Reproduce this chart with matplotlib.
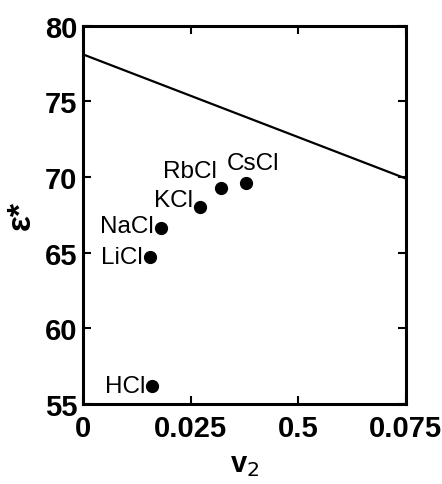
import matplotlib
matplotlib.use("Agg")
from matplotlib import pyplot as plt

# salts and their (v2, eps*) values
salts = ["HCl", "LiCl", "NaCl", "KCl", "RbCl", "CsCl"]
v2 = [0.0160, 0.0155, 0.0180, 0.0272, 0.0321, 0.0378]
eps = [56.2, 64.7, 66.6, 68.0, 69.3, 69.6]

# straight reference line
line_v2 = [0.0, 0.075]
line_eps = [78.1, 69.9]

xticks = [0, 0.025, 0.05, 0.075]
xtick_labels = ["0", "0.025", "0.5", "0.075"]
yticks = [55, 60, 65, 70, 75, 80]

# label offsets in pixels (dx, dy, ha)
offsets = {
    "HCl": (-7, 0, "right"),
    "LiCl": (-7, 0, "right"),
    "NaCl": (-7, 2, "right"),
    "KCl": (-7, 7, "right"),
    "RbCl": (-4, 17, "right"),
    "CsCl": (7, 20, "center"),
}

plt.rcParams["font.family"] = ["Liberation Sans", "DejaVu Sans"]

fig = plt.figure(figsize=(4.42, 4.85), dpi=100)
ax = fig.add_axes([0.188, 0.165, 0.73, 0.78])

ax.plot(line_v2, line_eps, color="black", lw=1.6)
ax.plot(v2, eps, "o", color="black", ms=8.5)

for name, x, y in zip(salts, v2, eps):
    dx, dy, ha = offsets[name]
    ax.annotate(name, (x, y), xytext=(dx, dy), textcoords="offset pixels",
                ha=ha, va="center", fontsize=17.5)

ax.set_xlim(0, 0.075)
ax.set_ylim(55, 80)
ax.set_xticks(xticks)
ax.set_xticklabels(xtick_labels)
ax.set_yticks(yticks)
ax.tick_params(direction="in", length=6, width=1.5, top=True, right=True,
               labelsize=21)
ax.tick_params(axis="x", pad=7)
ax.tick_params(axis="y", pad=4)
for lab in ax.get_xticklabels() + ax.get_yticklabels():
    lab.set_fontweight("bold")
for s in ax.spines.values():
    s.set_linewidth(2.2)

ax.set_xlabel(r"v$_2$", fontsize=21, fontweight="bold", labelpad=6)
ax.set_ylabel("ε*", fontsize=24, fontweight="bold", labelpad=6)

plt.savefig("out.png", dpi=100)
